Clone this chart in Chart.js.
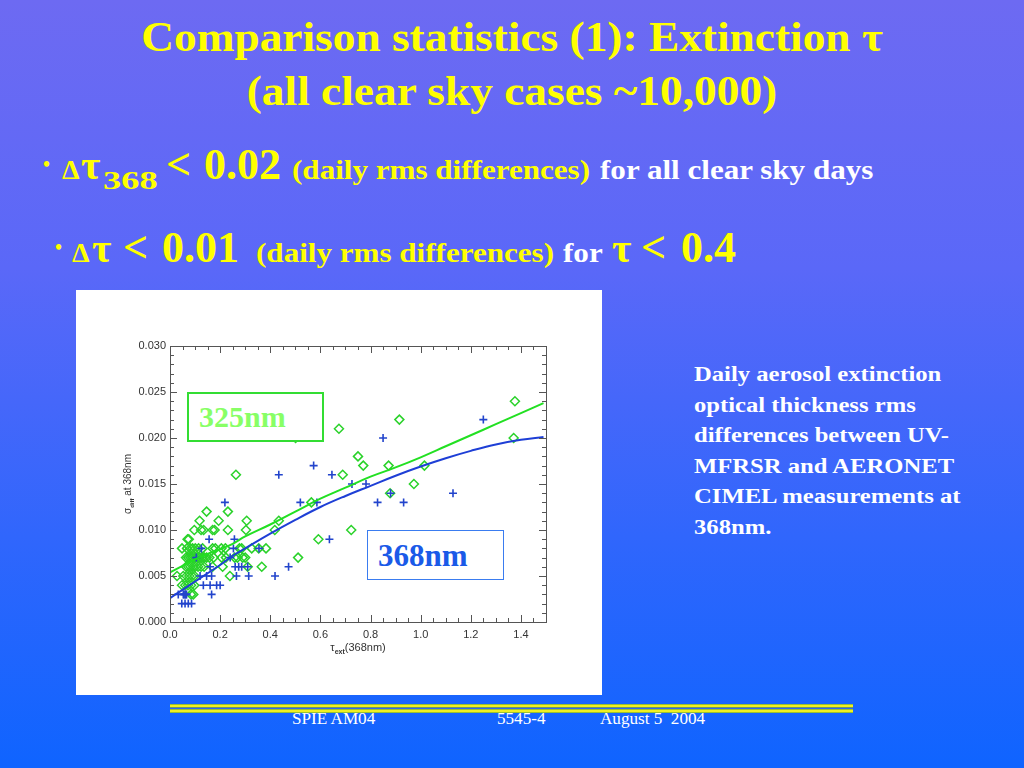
<!DOCTYPE html>
<html>
<head>
<meta charset="utf-8">
<script src="https://cdn.jsdelivr.net/npm/chart.js@4.4.1/dist/chart.umd.min.js"></script>
<style>
  body {
    margin: 0;
    width: 1024px;
    height: 768px;
    overflow: hidden;
    position: relative;
    background: linear-gradient(to bottom, #6d6af2 0%, #5a68f8 35%, #3066fc 70%, #0f64ff 100%);
    font-family: "Liberation Serif", "Times New Roman", serif;
    font-weight: bold;
  }
  .abs { position: absolute; white-space: nowrap; }
  .title { left: 0; width: 1024px; top: 10px; text-align: center; color: #ffff00; font-size: 42px; line-height: 54px; transform: scaleX(1.08); transform-origin: 512px 0; }
  .line { color: #ffff00; line-height: 1; font-size: 44px; }
  .line > span { display: inline-block; }
  .line i { font-style: normal; display: inline-block; transform-origin: 0 0; }
  .dot { font-size: 20px; vertical-align: 8px; }
  .delta { font-size: 28px; }
  .tau { font-size: 42px; }
  .sub { font-size: 26px; vertical-align: -10px; }
  .small { font-size: 28px; }
  .small i { transform: scaleX(1.11); }
  .white { color: #fff; }
  .side { left: 694px; top: 359px; color: #fff; font-size: 22px; line-height: 30.5px; transform: scaleX(1.12); transform-origin: 0 0; }
  #plotbox { left: 76px; top: 290px; width: 526px; height: 405px; background: #fff; }
  .tag { position: absolute; box-sizing: border-box; background: #fff; font-family: "Liberation Serif", serif; font-weight: bold; white-space: nowrap; }
  .foot { color: #fff; font-size: 16px; font-weight: normal; top: 710px; transform: scaleX(1.07); transform-origin: 0 0; }
  .rule { left: 170px; top: 704px; width: 683px; height: 9px;
    background: linear-gradient(to bottom, #9ac030 0px, #9ac030 1px, #f0f020 1px, #f0f020 3px, #6a9a60 3px, #6a9a60 4px, #3068f0 4px, #3068f0 5px, #9ac030 5px, #9ac030 6px, #f0f020 6px, #f0f020 8px, #9ac030 8px, #9ac030 9px); }
</style>
</head>
<body>

<div class="abs title">Comparison statistics (1): Extinction τ<br>(all clear sky cases ~10,000)</div>

<div class="abs line" style="left:43px; top:143px;"><span style="width:19px" class="dot">•</span><span style="width:19px" class="delta">Δ</span><span style="width:22px" class="tau">τ</span><span style="width:63px" class="sub"><i style="transform:scaleX(1.4)">368</i></span><span style="width:38px">&lt;</span><span style="width:88px">0.02</span><span style="width:308px" class="small"><i>(daily rms differences)</i></span><span class="small white"><i>for all clear sky days</i></span></div>

<div class="abs line" style="left:55px; top:226px;"><span style="width:17px" class="dot">•</span><span style="width:20px" class="delta">Δ</span><span style="width:31px" class="tau">τ</span><span style="width:39px">&lt;</span><span style="width:94px">0.01</span><span style="width:307px" class="small"><i>(daily rms differences)</i></span><span style="width:49px" class="small white"><i>for</i></span><span style="width:29px" class="tau">τ</span><span style="width:40px">&lt;</span><span>0.4</span></div>

<div class="abs side">Daily aerosol extinction<br>optical thickness rms<br>differences between UV-<br>MFRSR and AERONET<br>CIMEL measurements at<br>368nm.</div>

<div class="abs" id="plotbox">
  <canvas id="chart" width="526" height="405"></canvas>
  <div class="tag" style="left:111px; top:102px; width:137px; height:50px; border:2px solid #33dd33; color:#88ff66; font-size:30px; padding:6px 0 0 10px;">325nm</div>
  <div class="tag" style="left:291px; top:240px; width:137px; height:50px; border:1.5px solid #3a7cf0; color:#1a5ae8; font-size:31px; padding:7px 0 0 10px;">368nm</div>
</div>

<div class="abs rule"></div>
<div class="abs foot" style="left:292px;">SPIE AM04</div>
<div class="abs foot" style="left:497px;">5545-4</div>
<div class="abs foot" style="left:600px;">August 5&nbsp;&nbsp;2004</div>

<script>
// tick labels
const X_TICKS = [0.0, 0.2, 0.4, 0.6, 0.8, 1.0, 1.2, 1.4];
const Y_TICKS = [0.000, 0.005, 0.010, 0.015, 0.020, 0.025, 0.030];

// 325nm (green diamonds)
const G_X = [1.376, 0.915, 0.674, 0.501, 1.371, 0.750, 0.771, 0.872, 1.015, 0.263, 0.689, 0.973, 0.878, 0.564,
  0.146, 0.231, 0.118, 0.194, 0.306, 0.434,
  0.097, 0.124, 0.134, 0.170, 0.178, 0.231, 0.303, 0.418, 0.723,
  0.070, 0.075, 0.592,
  0.048, 0.068, 0.081, 0.090, 0.101, 0.114, 0.130, 0.170, 0.181, 0.205, 0.221, 0.277, 0.286, 0.326, 0.354, 0.383,
  0.064, 0.073, 0.082, 0.090, 0.100, 0.109, 0.118, 0.128, 0.137, 0.146, 0.157, 0.174, 0.206, 0.223, 0.258, 0.269, 0.290, 0.300, 0.511,
  0.064, 0.073, 0.082, 0.092, 0.101, 0.112, 0.124, 0.136, 0.170, 0.210, 0.310, 0.366,
  0.028, 0.053, 0.066, 0.077, 0.088, 0.098, 0.239,
  0.048, 0.061, 0.072, 0.084, 0.097,
  0.084, 0.093];
const G_Y = [0.024, 0.022, 0.021, 0.020, 0.020, 0.018, 0.017, 0.017, 0.017, 0.016, 0.016, 0.015, 0.014, 0.013,
  0.012, 0.012, 0.011, 0.011, 0.011, 0.011,
  0.010, 0.010, 0.010, 0.010, 0.010, 0.010, 0.010, 0.010, 0.010,
  0.009, 0.009, 0.009,
  0.008, 0.008, 0.008, 0.008, 0.008, 0.008, 0.008, 0.008, 0.008, 0.008, 0.008, 0.008, 0.008, 0.008, 0.008, 0.008,
  0.007, 0.007, 0.007, 0.007, 0.007, 0.007, 0.007, 0.007, 0.007, 0.007, 0.007, 0.007, 0.007, 0.007, 0.007, 0.007, 0.007, 0.007, 0.007,
  0.006, 0.006, 0.006, 0.006, 0.006, 0.006, 0.006, 0.006, 0.006, 0.006, 0.006, 0.006,
  0.005, 0.005, 0.005, 0.005, 0.005, 0.005, 0.005,
  0.004, 0.004, 0.004, 0.004, 0.004,
  0.003, 0.003];

// 368nm (blue crosses)
const B_X = [1.250, 0.850, 0.573, 0.434, 0.646, 0.726, 0.782, 0.880, 1.129,
  0.219, 0.520, 0.586, 0.828, 0.932,
  0.156, 0.257, 0.636,
  0.125, 0.253, 0.355,
  0.105, 0.240,
  0.160, 0.260, 0.274, 0.286, 0.310, 0.473,
  0.120, 0.146, 0.166, 0.265, 0.314, 0.419,
  0.133, 0.160, 0.186, 0.200,
  0.033, 0.053, 0.056, 0.060, 0.063, 0.066, 0.166,
  0.047, 0.060, 0.073, 0.086];
const B_Y = [0.022, 0.020, 0.017, 0.016, 0.016, 0.015, 0.015, 0.014, 0.014,
  0.013, 0.013, 0.013, 0.013, 0.013,
  0.009, 0.009, 0.009,
  0.008, 0.008, 0.008,
  0.007, 0.007,
  0.006, 0.006, 0.006, 0.006, 0.006, 0.006,
  0.005, 0.005, 0.005, 0.005, 0.005, 0.005,
  0.004, 0.004, 0.004, 0.004,
  0.003, 0.003, 0.003, 0.003, 0.003, 0.003, 0.003,
  0.002, 0.002, 0.002, 0.002];

// fitted curves
const FIT_X     = [0.00, 0.05, 0.10, 0.15, 0.20, 0.25, 0.30, 0.40, 0.50, 0.60, 0.70, 0.80, 0.90, 1.00, 1.10, 1.20, 1.30, 1.40, 1.49];
const GREEN_FIT = [0.0054, 0.0061, 0.0068, 0.0074, 0.0079, 0.0085, 0.0093, 0.0106, 0.0120, 0.0134, 0.0146, 0.0158, 0.0168, 0.0179, 0.0191, 0.0203, 0.0215, 0.0227, 0.0238];
const BLUE_FIT  = [0.0026, 0.0035, 0.0044, 0.0053, 0.0062, 0.0072, 0.0080, 0.0096, 0.0111, 0.0125, 0.0137, 0.0148, 0.0159, 0.0169, 0.0178, 0.0186, 0.0193, 0.0198, 0.0201];

const pairs = (xs, ys) => xs.map((v, i) => ({ x: v, y: ys[i] }));

const frame = {
    id: 'frame',
    afterDraw(chart) {
        const { ctx, chartArea: a, scales: { x, y } } = chart;
        ctx.save();
        ctx.strokeStyle = '#555';
        ctx.lineWidth = 1;
        ctx.strokeRect(Math.round(a.left) + 0.5, Math.round(a.top) + 0.5, Math.round(a.right - a.left), Math.round(a.bottom - a.top));
        ctx.beginPath();
        for (let i = 0; i <= 30; i++) {
            const px = Math.round(x.getPixelForValue(i * 0.05)) + 0.5;
            const len = i % 4 === 0 ? 7 : 4;
            ctx.moveTo(px, a.bottom); ctx.lineTo(px, a.bottom - len);
            ctx.moveTo(px, a.top); ctx.lineTo(px, a.top + len);
        }
        for (let i = 0; i <= 30; i++) {
            const py = Math.round(y.getPixelForValue(i * 0.001)) + 0.5;
            const len = i % 5 === 0 ? 7 : 4;
            ctx.moveTo(a.left, py); ctx.lineTo(a.left + len, py);
            ctx.moveTo(a.right, py); ctx.lineTo(a.right - len, py);
        }
        ctx.stroke();

        // axis titles with subscripts
        ctx.fillStyle = '#333';
        ctx.textBaseline = 'alphabetic';
        const cx = (a.left + a.right) / 2;
        ctx.font = '11px "Liberation Sans"';
        const t1 = 'τ', t3 = '(368nm)';
        const w1 = ctx.measureText(t1).width, w3 = ctx.measureText(t3).width;
        ctx.font = 'bold 7px "Liberation Sans"';
        const w2 = ctx.measureText('ext').width;
        let sx = cx - (w1 + w2 + w3) / 2;
        const by = a.bottom + 29;
        ctx.font = '11px "Liberation Sans"'; ctx.fillText(t1, sx, by);
        ctx.font = 'bold 7px "Liberation Sans"'; ctx.fillText('ext', sx + w1, by + 3);
        ctx.font = '11px "Liberation Sans"'; ctx.fillText(t3, sx + w1 + w2, by);

        ctx.translate(a.left - 39, (a.top + a.bottom) / 2);
        ctx.rotate(-Math.PI / 2);
        ctx.font = '10px "Liberation Sans"';
        const s1 = 'σ', s3 = ' at 368nm';
        const v1 = ctx.measureText(s1).width, v3 = ctx.measureText(s3).width;
        ctx.font = 'bold 6px "Liberation Sans"';
        const v2 = ctx.measureText('diff').width;
        sx = -(v1 + v2 + v3) / 2;
        ctx.font = '10px "Liberation Sans"'; ctx.fillText(s1, sx, 0);
        ctx.font = 'bold 6px "Liberation Sans"'; ctx.fillText('diff', sx + v1, 3);
        ctx.font = '10px "Liberation Sans"'; ctx.fillText(s3, sx + v1 + v2, 0);
        ctx.restore();
    }
};

new Chart(document.getElementById('chart'), {
    type: 'scatter',
    data: {
        datasets: [
            {
                label: '325nm fit',
                type: 'line',
                data: pairs(FIT_X, GREEN_FIT),
                borderColor: '#22e022',
                borderWidth: 2,
                pointRadius: 0,
                tension: 0.4,
                fill: false
            },
            {
                label: '368nm fit',
                type: 'line',
                data: pairs(FIT_X, BLUE_FIT),
                borderColor: '#1e3fd6',
                borderWidth: 2,
                pointRadius: 0,
                tension: 0.4,
                fill: false
            },
            {
                label: '368nm',
                data: pairs(B_X, B_Y),
                pointStyle: 'cross',
                radius: 4,
                borderColor: '#2244cc',
                borderWidth: 1.6
            },
            {
                label: '325nm',
                data: pairs(G_X, G_Y),
                pointStyle: 'rectRot',
                radius: 4.5,
                borderColor: '#2ad22a',
                backgroundColor: 'rgba(0,0,0,0)',
                borderWidth: 1.5
            }
        ]
    },
    options: {
        responsive: false,
        animation: false,
        devicePixelRatio: 1,
        layout: { padding: { left: 0, top: 56, right: 56, bottom: 0 } },
        plugins: { legend: { display: false }, tooltip: { enabled: false } },
        scales: {
            x: {
                type: 'linear',
                min: 0,
                max: 1.5,
                grid: { display: false, drawTicks: false },
                border: { display: false },
                afterBuildTicks: s => { s.ticks = X_TICKS.map(v => ({ value: v })); },
                afterFit: s => { s.height = 73; },
                ticks: {
                    padding: 6,
                    maxRotation: 0,
                    color: '#333',
                    font: { family: 'Liberation Sans', size: 11 },
                    callback: v => v.toFixed(1)
                }
            },
            y: {
                min: 0,
                max: 0.03,
                grid: { display: false, drawTicks: false },
                border: { display: false },
                afterBuildTicks: s => { s.ticks = Y_TICKS.map(v => ({ value: v })); },
                afterFit: s => { s.width = 94; },
                ticks: {
                    padding: 4,
                    color: '#333',
                    font: { family: 'Liberation Sans', size: 11 },
                    callback: v => v.toFixed(3)
                }
            }
        }
    },
    plugins: [frame]
});
</script>
</body>
</html>
